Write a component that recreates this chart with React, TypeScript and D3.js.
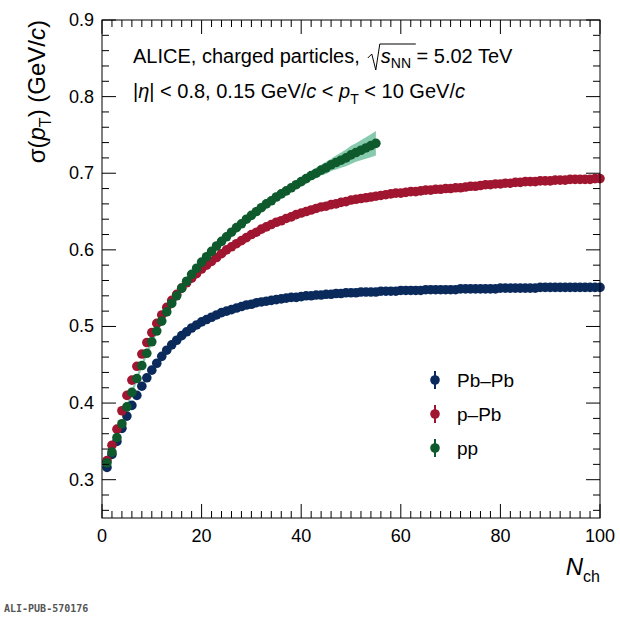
import * as d3 from "d3";
import { useEffect, useRef } from "react";

// sigma(pT) vs Nch, Nch = 1, 2, 3, ...
const ppVals = [
  0.322, 0.336, 0.355, 0.373, 0.395, 0.414, 0.432, 0.449, 0.465, 0.48,
  0.494, 0.507, 0.519, 0.53, 0.54, 0.55, 0.559, 0.568, 0.576, 0.584,
  0.591, 0.598, 0.605, 0.611, 0.617, 0.623, 0.629, 0.634, 0.64, 0.645,
  0.65, 0.655, 0.66, 0.664, 0.669, 0.673, 0.677, 0.681, 0.685, 0.689,
  0.693, 0.697, 0.7, 0.704, 0.707, 0.711, 0.714, 0.717, 0.72, 0.724,
  0.727, 0.73, 0.733, 0.736, 0.739,
];
const ppSys = [
  0.006, 0.005, 0.004, 0.004, 0.004, 0.004, 0.004, 0.004, 0.004, 0.004,
  0.004, 0.004, 0.004, 0.004, 0.004, 0.004, 0.004, 0.004, 0.004, 0.004,
  0.004, 0.004, 0.004, 0.004, 0.004, 0.004, 0.004, 0.004, 0.004, 0.004,
  0.004, 0.004, 0.004, 0.004, 0.004, 0.005, 0.005, 0.005, 0.005, 0.006,
  0.006, 0.006, 0.007, 0.007, 0.008, 0.008, 0.009, 0.01, 0.011, 0.012,
  0.012, 0.013, 0.014, 0.015, 0.016,
];
const pPbVals = [
  0.325, 0.345, 0.366, 0.39, 0.41, 0.43, 0.448, 0.464, 0.479, 0.492,
  0.504, 0.515, 0.525, 0.534, 0.542, 0.55, 0.557, 0.563, 0.569, 0.575,
  0.58, 0.585, 0.59, 0.595, 0.6, 0.604, 0.608, 0.612, 0.616, 0.62,
  0.623, 0.627, 0.63, 0.633, 0.636, 0.638, 0.641, 0.643, 0.646, 0.648,
  0.65, 0.652, 0.654, 0.656, 0.657, 0.659, 0.66, 0.662, 0.663, 0.665,
  0.666, 0.667, 0.668, 0.669, 0.67, 0.671, 0.672, 0.673, 0.674, 0.674,
  0.675, 0.676, 0.676, 0.677, 0.678, 0.678, 0.679, 0.679, 0.68, 0.68,
  0.681, 0.681, 0.682, 0.683, 0.683, 0.684, 0.685, 0.685, 0.686, 0.686,
  0.687, 0.687, 0.688, 0.688, 0.689, 0.689, 0.689, 0.69, 0.69, 0.69,
  0.691, 0.691, 0.691, 0.692, 0.692, 0.692, 0.692, 0.692, 0.693, 0.693,
];
const pbpbVals = [
  0.316, 0.333, 0.35, 0.367, 0.383, 0.397, 0.41, 0.422, 0.433, 0.443,
  0.452, 0.461, 0.469, 0.476, 0.482, 0.488, 0.493, 0.498, 0.502, 0.506,
  0.509, 0.512, 0.515, 0.518, 0.52, 0.522, 0.524, 0.526, 0.528, 0.529,
  0.531, 0.532, 0.533, 0.534, 0.535, 0.536, 0.537, 0.538, 0.538, 0.539,
  0.54, 0.54, 0.541, 0.541, 0.542, 0.542, 0.543, 0.543, 0.544, 0.544,
  0.544, 0.545, 0.545, 0.545, 0.545, 0.546, 0.546, 0.546, 0.546, 0.547,
  0.547, 0.547, 0.547, 0.547, 0.548, 0.548, 0.548, 0.548, 0.548, 0.548,
  0.548, 0.549, 0.549, 0.549, 0.549, 0.549, 0.549, 0.549, 0.549, 0.55,
  0.55, 0.55, 0.55, 0.55, 0.55, 0.55, 0.55, 0.551, 0.551, 0.551,
  0.551, 0.551, 0.551, 0.551, 0.551, 0.551, 0.551, 0.551, 0.551, 0.551,
];
const xTicks = [0, 20, 40, 60, 80, 100];
const yTicks = [0.3, 0.4, 0.5, 0.6, 0.7, 0.8, 0.9];
const legendNames = ["Pb\u2013Pb", "p\u2013Pb", "pp"];
const colors = ["#0b2a5c", "#a0152f", "#0e5a2c"];
const bandColors = ["#6fa8d6", "#e87a90", "#55b38a"];

export default function App() {
  const ref = useRef<SVGSVGElement>(null);

  useEffect(() => {
    const svg = d3.select(ref.current!);
    svg.selectAll("*").remove();
    const font = "'Liberation Sans', Arial, sans-serif";
    const L = 102, R = 600, T = 20, B = 518;
    const x = d3.scaleLinear().domain([0, 100]).range([L, R]);
    const y = d3.scaleLinear().domain([0.25, 0.9]).range([B, T]);

    const series = [pbpbVals, pPbVals, ppVals];

    // pp systematic band
    const band = d3.area<number>()
      .x((_, i) => x(i + 1))
      .y0((v, i) => y(v - ppSys[i]))
      .y1((v, i) => y(v + ppSys[i]));
    svg.append("path").attr("d", band(ppVals)!)
      .attr("fill", bandColors[2]).attr("opacity", 0.7);

    series.forEach((vals, si) => {
      const g = svg.append("g");
      g.selectAll("circle").data(vals).join("circle")
        .attr("cx", (_, i) => x(i + 1))
        .attr("cy", (v) => y(v))
        .attr("r", 4.8)
        .attr("fill", colors[si]);
    });

    // frame
    svg.append("rect").attr("x", L).attr("y", T)
      .attr("width", R - L).attr("height", B - T)
      .attr("fill", "none").attr("stroke", "#000").attr("stroke-width", 1);

    const ax = svg.append("g").attr("stroke", "#000").attr("stroke-width", 1);
    d3.range(0, 101, 2).forEach((v) => {
      const len = v % 20 === 0 ? 14 : 7;
      ax.append("line").attr("x1", x(v)).attr("x2", x(v)).attr("y1", B).attr("y2", B - len);
      ax.append("line").attr("x1", x(v)).attr("x2", x(v)).attr("y1", T).attr("y2", T + len);
    });
    d3.range(0, 33).map((i) => 0.26 + i * 0.02).forEach((v) => {
      const major = Math.abs(Math.round(v * 10) - v * 10) < 1e-6;
      const len = major ? 14 : 7;
      ax.append("line").attr("x1", L).attr("x2", L + len).attr("y1", y(v)).attr("y2", y(v));
      ax.append("line").attr("x1", R).attr("x2", R - len).attr("y1", y(v)).attr("y2", y(v));
    });

    svg.append("g").selectAll("text").data(xTicks).join("text")
      .attr("x", (d) => x(d)).attr("y", B + 24)
      .attr("text-anchor", "middle").attr("font-family", font).attr("font-size", 18)
      .text((d) => d);
    svg.append("g").selectAll("text").data(yTicks).join("text")
      .attr("x", L - 8).attr("y", (d) => y(d) + 6)
      .attr("text-anchor", "end").attr("font-family", font).attr("font-size", 18)
      .text((d) => d.toFixed(1));

    // axis titles
    const yt = svg.append("text")
      .attr("transform", `translate(${45},${20}) rotate(-90)`)
      .attr("text-anchor", "end").attr("font-family", font).attr("font-size", 24);
    yt.append("tspan").text("\u03c3(");
    yt.append("tspan").attr("font-style", "italic").text("p");
    yt.append("tspan").attr("font-size", 16).attr("dy", 6).text("T");
    yt.append("tspan").attr("dy", -6).text(") (GeV/");
    yt.append("tspan").attr("font-style", "italic").text("c");
    yt.append("tspan").text(")");

    const xt = svg.append("text").attr("x", 600).attr("y", 575)
      .attr("text-anchor", "end").attr("font-family", font).attr("font-size", 24);
    xt.append("tspan").attr("font-style", "italic").text("N");
    xt.append("tspan").attr("font-size", 16).attr("dy", 7).text("ch");

    // header text
    const fs = 20;
    const t1 = svg.append("text").attr("x", 133).attr("y", 63)
      .attr("font-family", font).attr("font-size", fs)
      .text("ALICE, charged particles,");
    const w1 = (t1.node() as SVGTextElement).getComputedTextLength();
    const sx = 133 + w1 + 8;
    svg.append("path")
      .attr("d", `M${sx},${58} L${sx + 4},${54} L${sx + 8},${70} L${sx + 12},${44} L${sx + 48},${44}`)
      .attr("fill", "none").attr("stroke", "#000").attr("stroke-width", 1);
    const t1b = svg.append("text").attr("x", sx + 13).attr("y", 63)
      .attr("font-family", font).attr("font-size", fs);
    t1b.append("tspan").attr("font-style", "italic").text("s");
    t1b.append("tspan").attr("font-size", 14).attr("dy", 5).text("NN");
    t1b.append("tspan").attr("dy", -5).text(" = 5.02 TeV");

    const t2 = svg.append("text").attr("x", 133).attr("y", 98)
      .attr("font-family", font).attr("font-size", fs);
    t2.append("tspan").text("|");
    t2.append("tspan").attr("font-style", "italic").text("\u03b7");
    t2.append("tspan").text("| < 0.8, 0.15 GeV/");
    t2.append("tspan").attr("font-style", "italic").text("c");
    t2.append("tspan").text(" < ");
    t2.append("tspan").attr("font-style", "italic").text("p");
    t2.append("tspan").attr("font-size", 14).attr("dy", 6).text("T");
    t2.append("tspan").attr("dy", -6).text(" < 10 GeV/");
    t2.append("tspan").attr("font-style", "italic").text("c");

    // legend
    legendNames.forEach((name, i) => {
      const ly = 380 + i * 34;
      svg.append("line").attr("x1", 435).attr("x2", 435).attr("y1", ly - 9).attr("y2", ly + 9)
        .attr("stroke", colors[i]).attr("stroke-width", 2);
      svg.append("circle").attr("cx", 435).attr("cy", ly).attr("r", 4.8).attr("fill", colors[i]);
      svg.append("text").attr("x", 457).attr("y", ly + 7)
        .attr("font-family", font).attr("font-size", 19).text(name);
    });

    svg.append("text").attr("x", 4).attr("y", 612)
      .attr("font-family", "'DejaVu Sans Mono', monospace").attr("font-weight", "bold")
      .attr("font-size", 10).attr("fill", "#555").text("ALI-PUB-570176");
  }, []);

  return (
    <svg ref={ref} width={620} height={620}
      style={{ position: "absolute", left: 0, top: 0, background: "#fff" }} />
  );
}
